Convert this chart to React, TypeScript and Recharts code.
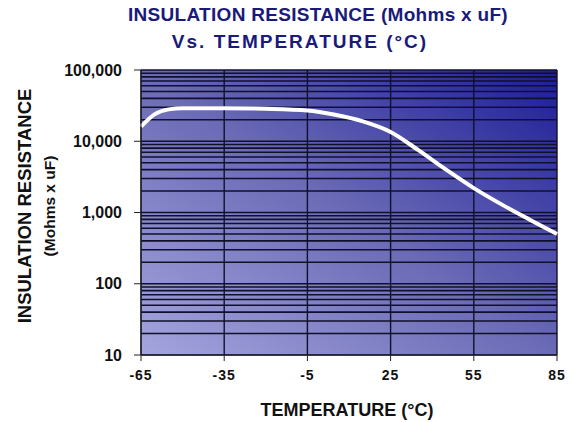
import { LineChart, Line, XAxis, YAxis, CartesianGrid, ReferenceLine } from 'recharts'

const temps = [-65, -60, -55, -50, -35, -20, -5, 5, 15, 25, 35, 45, 55, 65, 75, 85]
const resistance = [16000, 24000, 28000, 29000, 29000, 28500, 27000, 23500, 19000, 13500, 7500, 4000, 2200, 1300, 800, 500]
const xTicks = [-65, -35, -5, 25, 55, 85]
const yTicks = [10, 100, 1000, 10000, 100000]
const decades = [10, 100, 1000, 10000]
const minorSteps = [1, 2, 3, 4, 5, 6, 7, 8, 9]

const data = temps.map((t, i) => ({ t, r: resistance[i] }))
const gridLines = [...decades.flatMap((d) => minorSteps.map((m) => m * d)), 100000]

const font = 'Arial, "Liberation Sans", sans-serif'

export default function App() {
  return (
    <div style={{ position: 'absolute', left: 0, top: 0, width: 574, height: 422, background: '#fff', fontFamily: font }}>
      <div style={{ position: 'absolute', left: 318, top: 15, transform: 'translate(-50%, -50%)', whiteSpace: 'nowrap', fontSize: 19, letterSpacing: 0.3, fontWeight: 'bold', color: '#1a1a78' }}>
        INSULATION RESISTANCE (Mohms x uF)
      </div>
      <div style={{ position: 'absolute', left: 300, top: 42, transform: 'translate(-50%, -50%)', whiteSpace: 'nowrap', fontSize: 19, letterSpacing: 2, fontWeight: 'bold', color: '#1a1a78' }}>
        Vs. TEMPERATURE (°C)
      </div>
      <LineChart width={574} height={422} data={data} margin={{ top: 70, right: 17, bottom: 37, left: 0 }}>
        <defs>
          <linearGradient id="bg" x1="0" y1="1" x2="1" y2="0">
            <stop offset="0" stopColor="#a4a4de" />
            <stop offset="0.5" stopColor="#6a6ab6" />
            <stop offset="1" stopColor="#1c1c98" />
          </linearGradient>
        </defs>
        <CartesianGrid fill="url(#bg)" fillOpacity={1} stroke="#10102a" strokeWidth={1.4} horizontal={false} />
        {gridLines.map((v) => (
          <ReferenceLine key={v} y={v} stroke="#10102a" strokeWidth={1.6} />
        ))}
        <XAxis
          dataKey="t"
          type="number"
          domain={[-65, 85]}
          ticks={xTicks}
          height={30}
          tickSize={6}
          stroke="#222"
          tick={{ fill: '#111', fontSize: 14, fontWeight: 'bold', fontFamily: font, letterSpacing: 1 }}
          tickMargin={9}
        />
        <YAxis
          scale="log"
          domain={[10, 100000]}
          ticks={yTicks}
          width={141}
          tickSize={7}
          stroke="#222"
          allowDataOverflow
          tick={{ fill: '#111', fontSize: 16, fontWeight: 'bold', fontFamily: font }}
          tickFormatter={(v: number) => v.toLocaleString('en-US')}
          tickMargin={12}
        />
        <Line dataKey="r" type="monotone" stroke="#fff" strokeWidth={4} dot={false} isAnimationActive={false} />
      </LineChart>
      <div style={{ position: 'absolute', left: 25, top: 206, transform: 'translate(-50%, -50%) rotate(-90deg)', whiteSpace: 'nowrap', fontSize: 18.5, fontWeight: 'bold', color: '#111' }}>
        INSULATION RESISTANCE
      </div>
      <div style={{ position: 'absolute', left: 50, top: 206, transform: 'translate(-50%, -50%) rotate(-90deg)', whiteSpace: 'nowrap', fontSize: 15.5, fontWeight: 'bold', color: '#111' }}>
        (Mohms x uF)
      </div>
      <div style={{ position: 'absolute', left: 347, top: 410, transform: 'translate(-50%, -50%)', whiteSpace: 'nowrap', fontSize: 18, fontWeight: 'bold', color: '#111' }}>
        TEMPERATURE (°C)
      </div>
    </div>
  )
}
